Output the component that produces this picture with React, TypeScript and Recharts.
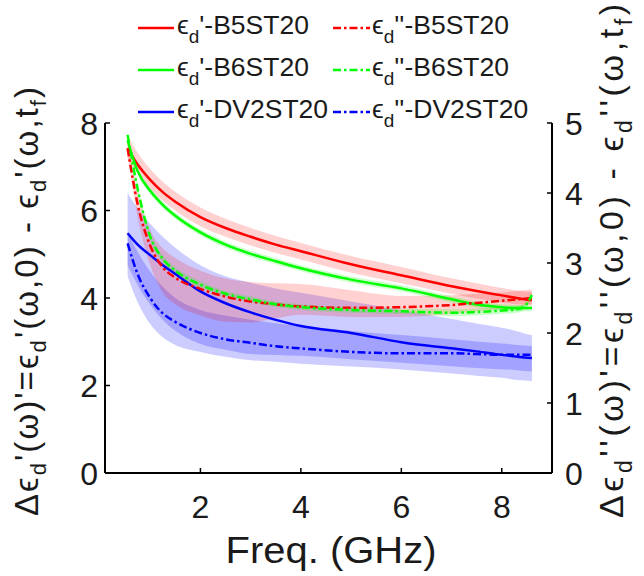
import React from 'react';
import { ComposedChart, Line, Area, XAxis, YAxis, Legend } from 'recharts';

// Frequency (GHz)
const FREQ = [0.55, 0.75, 1, 1.25, 1.5, 2, 2.5, 3, 3.5, 4, 5, 6, 7, 7.5, 8, 8.3, 8.45, 8.6];

// eps_d' (left axis)
const B5_REAL = [7.42, 7.05, 6.7, 6.42, 6.2, 5.85, 5.6, 5.4, 5.22, 5.07, 4.77, 4.52, 4.27, 4.16, 4.06, 4.0, 3.97, 3.95];
const B5_REAL_HI = [7.72, 7.32, 6.95, 6.66, 6.43, 6.07, 5.81, 5.6, 5.42, 5.26, 4.96, 4.71, 4.45, 4.34, 4.23, 4.17, 4.15, 4.14];
const B5_REAL_LO = [7.2, 6.85, 6.5, 6.22, 6.0, 5.64, 5.4, 5.2, 5.03, 4.88, 4.58, 4.34, 4.1, 3.99, 3.9, 3.86, 3.85, 3.85];

const B6_REAL = [7.6, 6.9, 6.45, 6.13, 5.88, 5.5, 5.22, 5.01, 4.84, 4.68, 4.42, 4.22, 3.97, 3.85, 3.79, 3.77, 3.77, 3.77];
const B6_REAL_HI = [7.67, 6.97, 6.52, 6.2, 5.95, 5.57, 5.29, 5.08, 4.91, 4.75, 4.49, 4.29, 4.04, 3.92, 3.86, 3.84, 3.84, 3.84];
const B6_REAL_LO = [7.53, 6.83, 6.38, 6.06, 5.81, 5.43, 5.15, 4.94, 4.77, 4.61, 4.35, 4.15, 3.9, 3.78, 3.72, 3.7, 3.7, 3.7];

const DV2_REAL = [5.48, 5.22, 4.98, 4.75, 4.55, 4.15, 3.88, 3.67, 3.5, 3.36, 3.2, 2.99, 2.85, 2.78, 2.7, 2.66, 2.64, 2.63];
const DV2_REAL_HI = [6.4, 6.05, 5.7, 5.4, 5.15, 4.75, 4.5, 4.35, 4.22, 4.12, 3.92, 3.72, 3.52, 3.42, 3.32, 3.24, 3.19, 3.15];
const DV2_REAL_LO = [4.75, 4.3, 3.85, 3.5, 3.25, 2.95, 2.82, 2.72, 2.7, 2.68, 2.6, 2.52, 2.44, 2.4, 2.37, 2.35, 2.33, 2.32];

// eps_d'' (right axis)
const B5_IMAG = [4.64, 3.84, 3.25, 2.94, 2.79, 2.63, 2.52, 2.45, 2.41, 2.38, 2.36, 2.37, 2.4, 2.43, 2.46, 2.48, 2.49, 2.5];
const B5_IMAG_HI = [4.74, 4.02, 3.47, 3.21, 3.07, 2.89, 2.78, 2.73, 2.71, 2.7, 2.61, 2.53, 2.54, 2.56, 2.58, 2.6, 2.61, 2.62];
const B5_IMAG_LO = [4.54, 3.66, 2.97, 2.58, 2.41, 2.25, 2.16, 2.15, 2.21, 2.26, 2.23, 2.23, 2.27, 2.31, 2.34, 2.37, 2.39, 2.4];

const B6_IMAG = [4.83, 4.06, 3.38, 3.06, 2.89, 2.69, 2.56, 2.48, 2.41, 2.37, 2.33, 2.31, 2.29, 2.3, 2.32, 2.34, 2.38, 2.54];
const B6_IMAG_HI = [4.88, 4.11, 3.43, 3.11, 2.94, 2.74, 2.6, 2.52, 2.45, 2.41, 2.37, 2.35, 2.34, 2.35, 2.37, 2.39, 2.43, 2.58];
const B6_IMAG_LO = [4.78, 4.01, 3.33, 3.01, 2.84, 2.64, 2.52, 2.44, 2.37, 2.33, 2.29, 2.27, 2.24, 2.25, 2.27, 2.29, 2.33, 2.5];

const DV2_IMAG = [3.28, 2.84, 2.5, 2.28, 2.16, 2.0, 1.91, 1.86, 1.81, 1.78, 1.73, 1.71, 1.71, 1.7, 1.69, 1.69, 1.69, 1.69];
const DV2_IMAG_HI = [3.44, 3.16, 2.88, 2.66, 2.5, 2.33, 2.25, 2.19, 2.14, 2.1, 2.03, 1.97, 1.91, 1.88, 1.85, 1.83, 1.82, 1.81];
const DV2_IMAG_LO = [2.81, 2.44, 2.13, 1.94, 1.83, 1.73, 1.66, 1.61, 1.59, 1.56, 1.52, 1.48, 1.42, 1.39, 1.36, 1.33, 1.32, 1.31];

const X_TICKS = [2, 4, 6, 8];
const LEFT_TICKS = [0, 2, 4, 6, 8];
const RIGHT_TICKS = [0, 1, 2, 3, 4, 5];

const RED = '#ff0000';
const GREEN = '#00ff00';
const BLUE = '#0000ff';
const DASHDOT = '8 3 2.5 3';
const FONT = '"Liberation Sans", Arial, Helvetica, sans-serif';
const TXT = '#1a1a1a';

const W = 644;
const H = 576;
const PLOT = { left: 105, right: 552, top: 123, bottom: 473 };

const data = FREQ.map((f, i) => ({
  f,
  b5r: B5_REAL[i],
  b6r: B6_REAL[i],
  dvr: DV2_REAL[i],
  b5i: B5_IMAG[i],
  b6i: B6_IMAG[i],
  dvi: DV2_IMAG[i],
  b5rBand: [B5_REAL_LO[i], B5_REAL_HI[i]],
  b6rBand: [B6_REAL_LO[i], B6_REAL_HI[i]],
  dvrBand: [DV2_REAL_LO[i], DV2_REAL_HI[i]],
  b5iBand: [B5_IMAG_LO[i], B5_IMAG_HI[i]],
  b6iBand: [B6_IMAG_LO[i], B6_IMAG_HI[i]],
  dviBand: [DV2_IMAG_LO[i], DV2_IMAG_HI[i]],
}));

type Seg = { t: string; sub?: boolean };

function renderSegs(segs: Seg[], size: number, subSize: number, shift: number) {
  const out: React.ReactNode[] = [];
  let lowered = false;
  segs.forEach((s, k) => {
    let dy = 0;
    if (s.sub && !lowered) { dy = shift; lowered = true; }
    else if (!s.sub && lowered) { dy = -shift; lowered = false; }
    out.push(
      <tspan key={k} dy={dy} fontSize={s.sub ? subSize : size}>{s.t}</tspan>
    );
  });
  return out;
}

const LEFT_LABEL: Seg[] = [
  { t: 'Δϵ' }, { t: 'd', sub: true }, { t: "'(ω)'=ϵ" }, { t: 'd', sub: true },
  { t: "'(ω,0) - ϵ" }, { t: 'd', sub: true }, { t: "'(ω,t" }, { t: 'f', sub: true }, { t: ')' },
];
const RIGHT_LABEL: Seg[] = [
  { t: 'Δϵ' }, { t: 'd', sub: true }, { t: "''(ω)'=ϵ" }, { t: 'd', sub: true },
  { t: "''(ω,0) - ϵ" }, { t: 'd', sub: true }, { t: "''(ω,t" }, { t: 'f', sub: true }, { t: ')' },
];

const LEGEND_ITEMS = [
  { col: 0, row: 0, color: RED, dash: undefined, prime: "'", name: 'B5ST20' },
  { col: 1, row: 0, color: RED, dash: DASHDOT, prime: "''", name: 'B5ST20' },
  { col: 0, row: 1, color: GREEN, dash: undefined, prime: "'", name: 'B6ST20' },
  { col: 1, row: 1, color: GREEN, dash: DASHDOT, prime: "''", name: 'B6ST20' },
  { col: 0, row: 2, color: BLUE, dash: undefined, prime: "'", name: 'DV2ST20' },
  { col: 1, row: 2, color: BLUE, dash: DASHDOT, prime: "''", name: 'DV2ST20' },
];
const LEG_COL_X = [[138, 174, 177], [333, 370, 372]];
const LEG_ROW_BASE = [34, 76, 118];

function LegendContent() {
  return (
    <svg width={W} height={140} style={{ display: 'block' }}>
      {LEGEND_ITEMS.map((it, k) => {
        const [x1, x2, tx] = LEG_COL_X[it.col];
        const by = LEG_ROW_BASE[it.row];
        return (
          <g key={k}>
            <line x1={x1} x2={x2} y1={by - 6} y2={by - 6} stroke={it.color} strokeWidth={2.5} strokeDasharray={it.dash} />
            <text x={tx} y={by} fontFamily={FONT} fontSize={26.5} fill={TXT}>
              {renderSegs([{ t: 'ϵ' }, { t: 'd', sub: true }, { t: `${it.prime}-${it.name}` }], 26.5, 19, 9)}
            </text>
          </g>
        );
      })}
    </svg>
  );
}

function XTick(props: any) {
  const { x, payload } = props;
  return (
    <g>
      <line x1={x} x2={x} y1={PLOT.bottom} y2={PLOT.bottom - 5} stroke="#000" strokeWidth={1.5} />
      <text x={x} y={518} textAnchor="middle" fontFamily={FONT} fontSize={32} fill={TXT}>{payload.value}</text>
    </g>
  );
}
function LeftTick(props: any) {
  const { y, payload } = props;
  return (
    <g>
      <line x1={PLOT.left} x2={PLOT.left + 5} y1={y} y2={y} stroke="#000" strokeWidth={1.5} />
      <text x={98} y={y + 11.5} textAnchor="end" fontFamily={FONT} fontSize={32} fill={TXT}>{payload.value}</text>
    </g>
  );
}
function RightTick(props: any) {
  const { y, payload } = props;
  return (
    <g>
      <line x1={PLOT.right - 5} x2={PLOT.right} y1={y} y2={y} stroke="#000" strokeWidth={1.5} />
      <text x={565} y={y + 11.5} textAnchor="start" fontFamily={FONT} fontSize={32} fill={TXT}>{payload.value}</text>
    </g>
  );
}

function XLabel() {
  return (
    <text x={331} y={563} textAnchor="middle" fontFamily={FONT} fontSize={36} fill={TXT}
      textLength={211} lengthAdjust="spacingAndGlyphs">Freq. (GHz)</text>
  );
}
function LeftLabel() {
  return (
    <text transform="translate(38,516) rotate(-90)" fontFamily={FONT} fill={TXT}
      textLength={429} lengthAdjust="spacing">
      {renderSegs(LEFT_LABEL, 33, 22, 8)}
    </text>
  );
}
function RightLabel() {
  return (
    <text transform="translate(623,518) rotate(-90)" fontFamily={FONT} fill={TXT}
      textLength={514} lengthAdjust="spacing">
      {renderSegs(RIGHT_LABEL, 34, 23, 9)}
    </text>
  );
}

export default function App() {
  return (
    <div style={{ position: 'absolute', left: 0, top: 0, width: W, height: H, background: '#fff' }}>
      <ComposedChart width={W} height={H} data={data}
        margin={{ top: PLOT.top, right: W - PLOT.right - 60, bottom: H - PLOT.bottom - 60, left: 0 }}>
        <XAxis dataKey="f" type="number" domain={[0.1, 9]} ticks={X_TICKS} allowDataOverflow
          height={60} axisLine={{ stroke: '#000', strokeWidth: 2 }} tickLine={false} tick={<XTick />}
          label={<XLabel />} />
        <YAxis yAxisId="left" orientation="left" type="number" domain={[0, 8]} ticks={LEFT_TICKS}
          width={105} axisLine={{ stroke: '#000', strokeWidth: 2 }} tickLine={false} tick={<LeftTick />}
          label={<LeftLabel />} />
        <YAxis yAxisId="right" orientation="right" type="number" domain={[0, 5]} ticks={RIGHT_TICKS}
          width={60} axisLine={{ stroke: '#000', strokeWidth: 2 }} tickLine={false} tick={<RightTick />}
          label={<RightLabel />} />

        <Area yAxisId="left" dataKey="dvrBand" type="monotone" stroke="none" fill={BLUE} fillOpacity={0.2} isAnimationActive={false} legendType="none" />
        <Area yAxisId="right" dataKey="dviBand" type="monotone" stroke="none" fill={BLUE} fillOpacity={0.2} isAnimationActive={false} legendType="none" />
        <Area yAxisId="right" dataKey="b5iBand" type="monotone" stroke="none" fill={RED} fillOpacity={0.18} isAnimationActive={false} legendType="none" />
        <Area yAxisId="left" dataKey="b5rBand" type="monotone" stroke="none" fill={RED} fillOpacity={0.18} isAnimationActive={false} legendType="none" />
        <Area yAxisId="left" dataKey="b6rBand" type="monotone" stroke="none" fill={GREEN} fillOpacity={0.2} isAnimationActive={false} legendType="none" />
        <Area yAxisId="right" dataKey="b6iBand" type="monotone" stroke="none" fill={GREEN} fillOpacity={0.2} isAnimationActive={false} legendType="none" />

        <Line yAxisId="left" dataKey="b5r" type="monotone" stroke={RED} strokeWidth={2.5} dot={false} isAnimationActive={false} />
        <Line yAxisId="left" dataKey="b6r" type="monotone" stroke={GREEN} strokeWidth={2.5} dot={false} isAnimationActive={false} />
        <Line yAxisId="left" dataKey="dvr" type="monotone" stroke={BLUE} strokeWidth={2.5} dot={false} isAnimationActive={false} />
        <Line yAxisId="right" dataKey="b5i" type="monotone" stroke={RED} strokeWidth={2.5} strokeDasharray={DASHDOT} dot={false} isAnimationActive={false} />
        <Line yAxisId="right" dataKey="b6i" type="monotone" stroke={GREEN} strokeWidth={2.5} strokeDasharray={DASHDOT} dot={false} isAnimationActive={false} />
        <Line yAxisId="right" dataKey="dvi" type="monotone" stroke={BLUE} strokeWidth={2.5} strokeDasharray={DASHDOT} dot={false} isAnimationActive={false} />

        <Legend layout="vertical" align="center" verticalAlign="middle" content={<LegendContent />}
          wrapperStyle={{ top: 0, left: 0, width: W, height: 140 }} />
      </ComposedChart>
    </div>
  );
}
